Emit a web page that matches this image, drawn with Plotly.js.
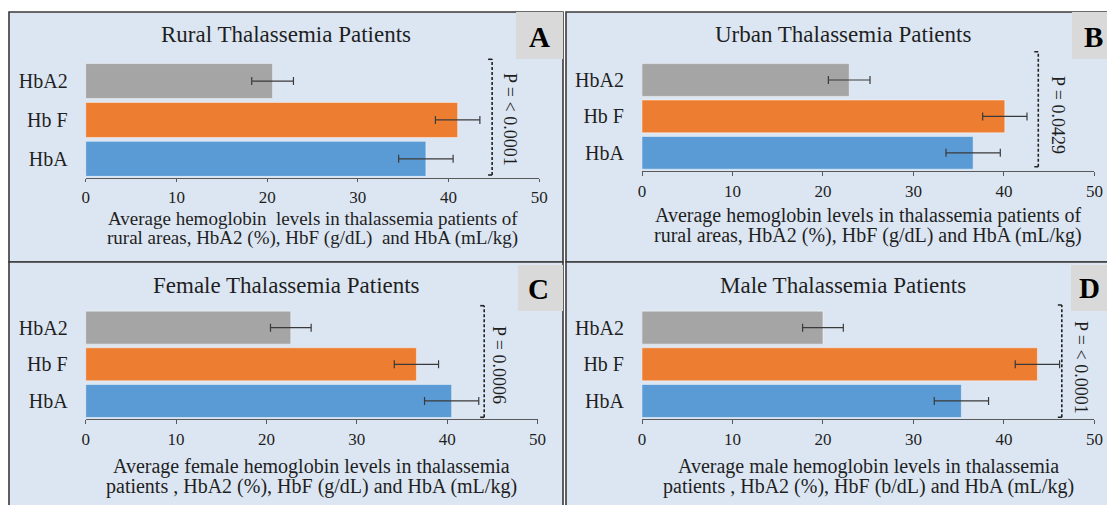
<!DOCTYPE html>
<html>
<head>
<meta charset="utf-8">
<script src="https://cdn.plot.ly/plotly-3.0.1.min.js"></script>
<style>
  html, body { margin: 0; padding: 0; background: #ffffff; }
  #chart { width: 1107px; height: 505px; }
</style>
</head>
<body>
<div id="chart"></div>
<script>
// ---------------- DATA ----------------
const categories = ['HbA', 'Hb F', 'HbA2'];            // bottom -> top
const ruralValues  = [37.5, 41.0, 20.6];
const ruralErrors  = [3.0, 2.45, 2.3];
const urbanValues  = [36.6, 40.1, 22.9];
const urbanErrors  = [3.0, 2.45, 2.3];
const femaleValues = [40.5, 36.6, 22.7];
const femaleErrors = [3.0, 2.45, 2.25];
const maleValues   = [35.3, 43.7, 20.0];
const maleErrors   = [3.0, 2.45, 2.25];
const panelTitles  = ['Rural Thalassemia Patients', 'Urban Thalassemia Patients',
                      'Female Thalassemia Patients', 'Male Thalassemia Patients'];
const panelLetters = ['A', 'B', 'C', 'D'];
const pValueLabels = ['P = < 0.0001', 'P = 0.0429', 'P = 0.0006', 'P = < 0.0001'];
const xTitleLines  = [
  ['Average hemoglobin  levels in thalassemia patients of', 'rural areas, HbA2 (%), HbF (g/dL)  and HbA (mL/kg)'],
  ['Average hemoglobin levels in thalassemia patients of', 'rural areas, HbA2 (%), HbF (g/dL) and HbA (mL/kg)'],
  ['Average female hemoglobin levels in thalassemia', 'patients , HbA2 (%), HbF (g/dL) and HbA (mL/kg)'],
  ['Average male hemoglobin levels in thalassemia', 'patients , HbA2 (%), HbF (b/dL) and HbA (mL/kg)']
];
const xTickValues = [0, 10, 20, 30, 40, 50];
const seriesValues = [ruralValues, urbanValues, femaleValues, maleValues];
const seriesErrors = [ruralErrors, urbanErrors, femaleErrors, maleErrors];

// ---------------- STYLE / GEOMETRY ----------------
const W = 1107, H = 505;
const FONT = "'Liberation Serif', 'Times New Roman', serif";
const TXT = '#1f1f1f';
const barColors = ['#5b9bd5', '#ed7d31', '#a5a5a5'];
const px = x => x / W;
const py = y => 1 - y / H;

const geom = [
  { dx: [85.7, 539.3], dy: [61.6, 178.3], frame: [9, 12, 563, 262], lbox: [516, 12, 563, 59], lat: [539.5, 37],
    tat: [285.7, 34], xt: [219, 238], xts: 19, pat: [510, 119], bx: 44.8, bpx: [59.3, 175], xstand: 0, tl: 3 },
  { dx: [642, 1094.4], dy: [61.8, 171], frame: [566, 12, 1125, 262], lbox: [1072, 12, 1125, 59], lat: [1093, 37],
    tat: [843, 34], xt: [216, 236], xts: 20, pat: [1058, 115], bx: 43.8, bpx: [51.7, 166.7], xstand: 1, tl: 4 },
  { dx: [85.7, 537.5], dy: [309.3, 419.3], frame: [9, 262, 563, 530], lbox: [518, 265, 563, 311], lat: [538, 289],
    tat: [286.6, 285], xt: [466, 486], xts: 20, pat: [499, 365], bx: 44.1, bpx: [305.7, 417.3], xstand: 0, tl: 4 },
  { dx: [642, 1094.4], dy: [309.3, 419.3], frame: [566, 262, 1125, 530], lbox: [1071, 265, 1125, 311], lat: [1089, 288],
    tat: [842.5, 285], xt: [466, 486], xts: 20, pat: [1081, 367], bx: 46.4, bpx: [305, 417.3], xstand: 0, tl: 4 }
];

const traces = [];
const layout = {
  width: W, height: H,
  margin: { l: 0, r: 0, t: 0, b: 0 },
  paper_bgcolor: '#ffffff',
  plot_bgcolor: 'rgba(0,0,0,0)',
  showlegend: false,
  bargap: 0.1,
  font: { family: FONT, color: TXT },
  shapes: [],
  annotations: []
};

geom.forEach((g, i) => {
  const n = i === 0 ? '' : String(i + 1);
  const xa = 'x' + n, ya = 'y' + n;

  traces.push({
    type: 'bar', orientation: 'h',
    y: categories, x: seriesValues[i],
    xaxis: xa, yaxis: ya,
    marker: { color: barColors, line: { color: 'rgba(255,255,255,0.45)', width: 1 } },
    error_x: { type: 'data', array: seriesErrors[i], visible: true, color: '#3a3a3a', thickness: 1.2, width: 4 },
    hoverinfo: 'x+y'
  });

  layout['xaxis' + n] = {
    domain: [px(g.dx[0]), px(g.dx[1])], anchor: ya,
    range: [0, 50], tickvals: xTickValues, ticktext: xTickValues.map(String),
    showgrid: false, zeroline: false, showline: true, linecolor: '#595959', linewidth: 1,
    ticks: 'outside', ticklen: g.tl, tickcolor: '#595959', tickwidth: 1,
    ticklabelstandoff: g.xstand,
    tickfont: { family: FONT, size: 17, color: TXT }, fixedrange: true
  };
  layout['yaxis' + n] = {
    domain: [py(g.dy[1]), py(g.dy[0])], anchor: xa,
    type: 'category', categoryorder: 'array', categoryarray: categories,
    showgrid: false, zeroline: false, showline: false, ticks: '',
    ticklabelstandoff: 17,
    tickfont: { family: FONT, size: 20, color: TXT }, fixedrange: true
  };

  // panel frame
  layout.shapes.push({ type: 'rect', xref: 'paper', yref: 'paper', layer: 'below',
    x0: px(g.frame[0]), x1: px(g.frame[2]), y0: py(g.frame[3]), y1: py(g.frame[1]),
    fillcolor: '#dce6f2', line: { color: '#3a3a3a', width: 1.6 } });
  // letter box
  layout.shapes.push({ type: 'rect', xref: 'paper', yref: 'paper', layer: 'below',
    x0: px(g.lbox[0]), x1: px(g.lbox[2]), y0: py(g.lbox[3]), y1: py(g.lbox[1]),
    fillcolor: '#d9d9d9', line: { width: 0 } });
  // significance bracket
  layout.shapes.push({ type: 'line', xref: xa, yref: 'paper',
    x0: g.bx, x1: g.bx, y0: py(g.bpx[1]), y1: py(g.bpx[0]),
    line: { color: '#222', width: 1.6, dash: '3px,2px' } });
  layout.shapes.push({ type: 'line', xref: xa, yref: 'paper', xsizemode: 'pixel', xanchor: g.bx,
    x0: -4, x1: 0, y0: py(g.bpx[0]), y1: py(g.bpx[0]), line: { color: '#222', width: 1.6 } });
  layout.shapes.push({ type: 'line', xref: xa, yref: 'paper', xsizemode: 'pixel', xanchor: g.bx,
    x0: -4, x1: 0, y0: py(g.bpx[1]), y1: py(g.bpx[1]), line: { color: '#222', width: 1.6 } });

  // panel title
  layout.annotations.push({ xref: 'paper', yref: 'paper', x: px(g.tat[0]), y: py(g.tat[1]),
    xanchor: 'center', yanchor: 'middle', showarrow: false, text: panelTitles[i],
    font: { family: FONT, size: 23, color: TXT } });
  // panel letter
  layout.annotations.push({ xref: 'paper', yref: 'paper', x: px(g.lat[0]), y: py(g.lat[1]),
    xanchor: 'center', yanchor: 'middle', showarrow: false, text: '<b>' + panelLetters[i] + '</b>',
    font: { family: FONT, size: 29, color: '#000' } });
  // p-value
  layout.annotations.push({ xref: 'paper', yref: 'paper', x: px(g.pat[0]), y: py(g.pat[1]),
    xanchor: 'center', yanchor: 'middle', showarrow: false, text: pValueLabels[i], textangle: 90,
    font: { family: FONT, size: 18, color: TXT } });
  // x-axis title (two lines)
  const cx = px((g.dx[0] + g.dx[1]) / 2);
  xTitleLines[i].forEach((line, k) => {
    layout.annotations.push({ xref: 'paper', yref: 'paper', x: cx, y: py(g.xt[k]),
      xanchor: 'center', yanchor: 'middle', showarrow: false, text: line,
      font: { family: FONT, size: g.xts, color: TXT } });
  });
});

Plotly.newPlot('chart', traces, layout, { displayModeBar: false, staticPlot: true });
</script>
</body>
</html>
